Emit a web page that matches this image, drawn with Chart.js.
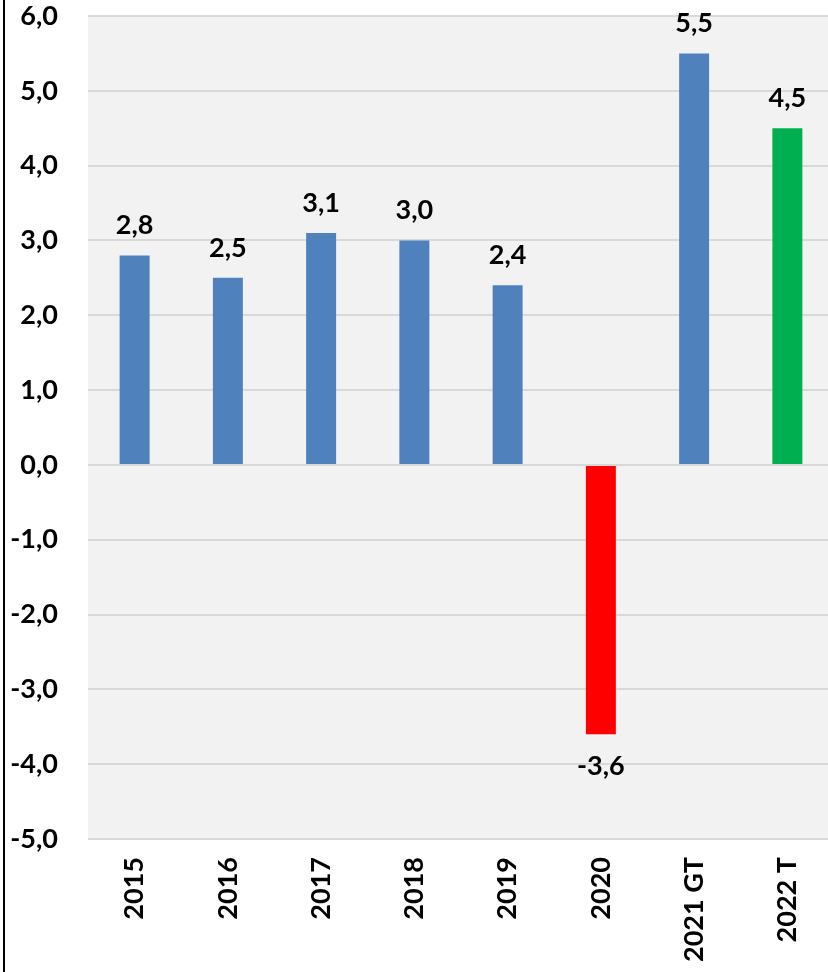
<!DOCTYPE html>
<html>
<head>
<meta charset="utf-8">
<script src="https://cdn.jsdelivr.net/npm/chart.js@4"></script>
<style>
html,body{margin:0;padding:0;background:#fff;overflow:hidden;}
#wrap{position:absolute;left:0;top:0;width:828px;height:972px;overflow:hidden;}
</style>
</head>
<body>
<div id="wrap"><canvas id="c" width="834" height="972"></canvas></div>
<script>
const categories = ["2015","2016","2017","2018","2019","2020","2021 GT","2022 T"];
const values = [2.8, 2.5, 3.1, 3.0, 2.4, -3.6, 5.5, 4.5];
const barColors = ["#4f81bd","#4f81bd","#4f81bd","#4f81bd","#4f81bd","#ff0000","#4f81bd","#00b050"];
const yMin = -5, yMax = 6, yStep = 1;

const FONT = "Lato, 'Liberation Sans', sans-serif";
const fmt = v => v.toFixed(1).replace('.', ',');

const bgPlugin = {
  id: 'bg',
  beforeDraw(chart) {
    const {ctx, chartArea: a} = chart;
    ctx.save();
    ctx.fillStyle = '#f2f2f2';
    ctx.fillRect(a.left, a.top, a.right - a.left, a.bottom - a.top);
    ctx.restore();
  },
  afterDraw(chart) {
    const ctx = chart.ctx;
    ctx.save();
    ctx.fillStyle = '#000';
    ctx.fillRect(3, 0, 2, chart.height);
    ctx.restore();
  }
};

const labelPlugin = {
  id: 'vals',
  afterDatasetsDraw(chart) {
    const ctx = chart.ctx;
    const meta = chart.getDatasetMeta(0);
    ctx.save();
    ctx.font = "bold 27px " + FONT;
    ctx.fillStyle = '#000';
    ctx.textAlign = 'center';
    ctx.textBaseline = 'alphabetic';
    meta.data.forEach((bar, i) => {
      const v = values[i];
      const y = v >= 0 ? bar.y - 21 : bar.y + 41;
      ctx.fillText(fmt(v), bar.x, y);
    });
    ctx.restore();
  }
};

new Chart(document.getElementById('c'), {
  type: 'bar',
  data: {
    labels: categories,
    datasets: [{
      data: values,
      backgroundColor: barColors,
      barPercentage: 0.5,
      categoryPercentage: 0.643
    }]
  },
  options: {
    responsive: false,
    animation: false,
    devicePixelRatio: 1,
    layout: { padding: { left: 5, right: 0, top: 16, bottom: 0 } },
    plugins: { legend: { display: false }, tooltip: { enabled: false } },
    scales: {
      x: {
        grid: { display: false, drawTicks: false },
        border: { display: false },
        ticks: {
          color: '#000',
          font: { family: FONT, size: 27, weight: 'bold' },
          minRotation: 90, maxRotation: 90,
          padding: 18
        },
        afterFit(s) { s.height = 133; s.paddingLeft = 0; s.paddingRight = 0; s.paddingTop = 0; s.paddingBottom = 0; }
      },
      y: {
        min: yMin, max: yMax,
        grid: { color: '#d9d9d9', lineWidth: 2, drawTicks: false },
        border: { display: false },
        ticks: {
          stepSize: yStep,
          color: '#000',
          font: { family: FONT, size: 27, weight: 'bold' },
          padding: 30,
          callback: v => fmt(v)
        },
        afterFit(s) { s.width = 83; s.paddingLeft = 0; s.paddingRight = 0; s.paddingTop = 0; s.paddingBottom = 0; }
      }
    }
  },
  plugins: [bgPlugin, labelPlugin]
});
</script>
</body>
</html>
